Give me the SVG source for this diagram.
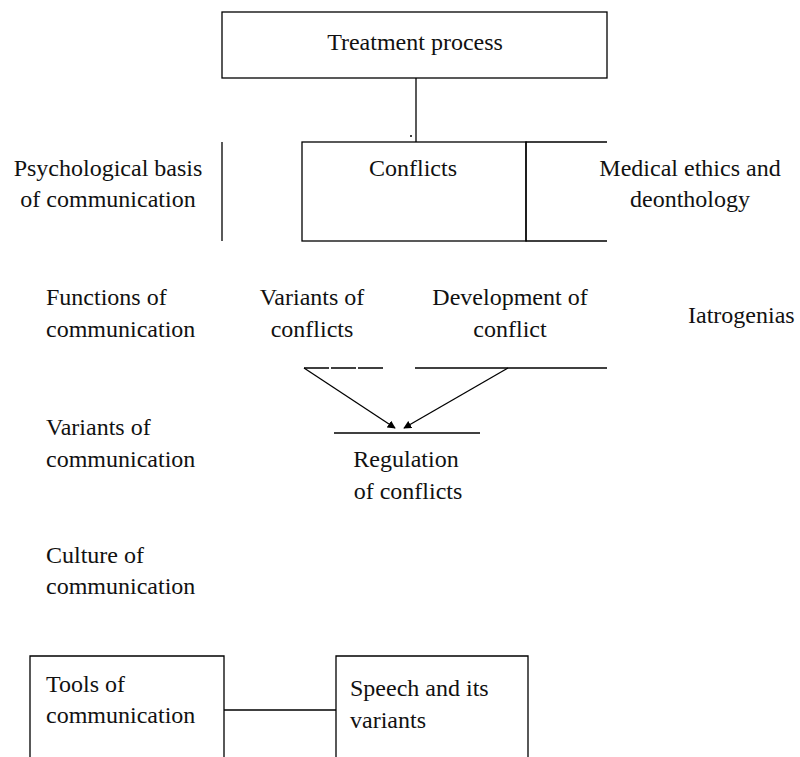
<svg xmlns="http://www.w3.org/2000/svg" width="800" height="757" viewBox="0 0 800 757">
  <style>
    .ln { fill: none; stroke: #000; stroke-width: 1.3; }
    .box { fill: #fff; stroke: #000; stroke-width: 1.3; }
    .t { font-family: 'Liberation Serif', 'DejaVu Serif', 'Times New Roman', Times, serif; font-size: 24px; fill: #111; }
    .c { text-anchor: middle; }
  </style>
  <defs>
    <marker id="tip" viewBox="0 0 10 10" refX="9" refY="5" markerWidth="8" markerHeight="8" markerUnits="userSpaceOnUse" orient="auto">
      <path d="M0,0 L10,5 L0,10 z" fill="#000"/>
    </marker>
  </defs>

  <rect width="800" height="757" fill="#fff"/>

  <g id="connectors">
    <line class="ln" x1="416" y1="78" x2="416" y2="142"/>
    <circle cx="411" cy="136" r="1" fill="#000"/>
    <line class="ln" x1="304" y1="368" x2="383" y2="368" stroke-dasharray="25 2"/>
    <line class="ln" x1="415" y1="368" x2="607" y2="368"/>
    <line class="ln" x1="304" y1="368" x2="395" y2="428" marker-end="url(#tip)"/>
    <line class="ln" x1="508" y1="368" x2="404" y2="428" marker-end="url(#tip)"/>
    <line class="ln" x1="334" y1="433" x2="480" y2="433" stroke-width="1.8"/>
    <line class="ln" x1="224" y1="710" x2="336" y2="710"/>
  </g>

  <g id="treatment-process">
    <rect class="box" x="222" y="12" width="385" height="66"/>
    <text class="t c" x="415" y="50">Treatment process</text>
  </g>

  <g id="psychological-basis">
    <line class="ln" x1="222" y1="142" x2="222" y2="241"/>
    <text class="t c" x="108" y="176">Psychological basis</text>
    <text class="t c" x="108" y="207">of communication</text>
  </g>

  <g id="conflicts">
    <rect class="box" x="302" y="142" width="224" height="99"/>
    <text class="t c" x="413" y="176">Conflicts</text>
  </g>

  <g id="medical-ethics">
    <polyline class="ln" points="607,142 526,142 526,241 607,241"/>
    <text class="t c" x="690" y="176">Medical ethics and</text>
    <text class="t c" x="690" y="207">deonthology</text>
  </g>

  <g id="functions">
    <text class="t" x="46" y="305">Functions of</text>
    <text class="t" x="46" y="337">communication</text>
  </g>

  <g id="variants-of-conflicts">
    <text class="t c" x="312" y="305">Variants of</text>
    <text class="t c" x="312" y="337">conflicts</text>
  </g>

  <g id="development">
    <text class="t c" x="510" y="305">Development of</text>
    <text class="t c" x="510" y="337">conflict</text>
  </g>

  <g id="iatrogenias">
    <text class="t" x="688" y="323">Iatrogenias</text>
  </g>

  <g id="variants-of-communication">
    <text class="t" x="46" y="435">Variants of</text>
    <text class="t" x="46" y="467">communication</text>
  </g>

  <g id="regulation">
    <text class="t c" x="406" y="467">Regulation</text>
    <text class="t c" x="408" y="499">of conflicts</text>
  </g>

  <g id="culture">
    <text class="t" x="46" y="563">Culture of</text>
    <text class="t" x="46" y="594">communication</text>
  </g>

  <g id="tools">
    <polyline class="ln" points="30,760 30,656 224,656 224,760"/>
    <text class="t" x="46" y="692">Tools of</text>
    <text class="t" x="46" y="723">communication</text>
  </g>

  <g id="speech">
    <polyline class="ln" points="336,760 336,656 528,656 528,760"/>
    <text class="t" x="350" y="696">Speech and its</text>
    <text class="t" x="350" y="728">variants</text>
  </g>
</svg>
